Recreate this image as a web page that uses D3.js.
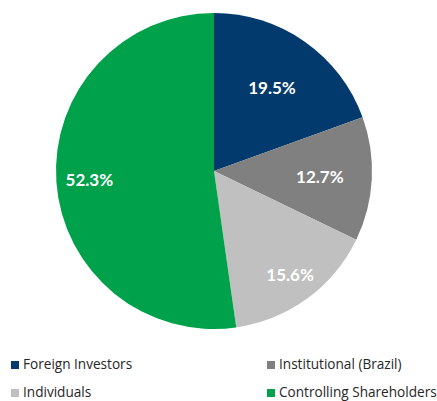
<!DOCTYPE html>
<html>
<head>
<meta charset="utf-8">
<title>Shareholders</title>
<script src="https://cdn.jsdelivr.net/npm/d3@7"></script>
<style>
  body { margin: 0; background: #fff; }
  .pct { fill: #fff; font-family: Lato, sans-serif; font-weight: bold; font-size: 17px; text-anchor: middle; }
  .leg { fill: #262626; font-family: "Open Sans", sans-serif; font-size: 13.6px; }
</style>
</head>
<body>
<script>
// data
var categories = ["Foreign Investors", "Institutional (Brazil)", "Individuals", "Controlling Shareholders"];
var shares = [19.5, 12.7, 15.6, 52.3];
var colors = ["#033a6d", "#808080", "#c0c0c0", "#00a14b"];

// label distance from centre, per slice (layout only)
var labelR = [101, 106, 129, 125];

var width = 437, height = 401;
var cx = 214, cy = 171, radius = 158;

var svg = d3.select("body").append("svg")
  .attr("width", width).attr("height", height);

var pie = d3.pie().sort(null).value(function(d){ return d; });
var arcs = pie(shares);
var arc = d3.arc().innerRadius(0).outerRadius(radius);

var g = svg.append("g").attr("transform", "translate(" + cx + "," + cy + ")");

g.selectAll("path.slice")
  .data(arcs)
  .enter().append("path")
  .attr("class", "slice")
  .attr("d", arc)
  .attr("fill", function(d, i){ return colors[i]; });

g.selectAll("text.pct")
  .data(arcs)
  .enter().append("text")
  .attr("class", "pct")
  .attr("transform", function(d, i){
    var a = (d.startAngle + d.endAngle) / 2;
    return "translate(" + (Math.sin(a) * labelR[i]) + "," + (-Math.cos(a) * labelR[i]) + ")";
  })
  .attr("dy", "0.36em")
  .text(function(d, i){ return shares[i].toFixed(1) + "%"; });

// legend, two columns
var legX = [11, 267], legY = [361, 389];
var leg = svg.selectAll("g.legend")
  .data(categories)
  .enter().append("g")
  .attr("class", "legend")
  .attr("transform", function(d, i){
    return "translate(" + legX[i % 2] + "," + legY[Math.floor(i / 2)] + ")";
  });
leg.append("rect")
  .attr("width", 8).attr("height", 8)
  .attr("fill", function(d, i){ return colors[i]; });
leg.append("text")
  .attr("class", "leg")
  .attr("x", 12).attr("y", 8)
  .text(function(d){ return d; });
</script>
</body>
</html>
